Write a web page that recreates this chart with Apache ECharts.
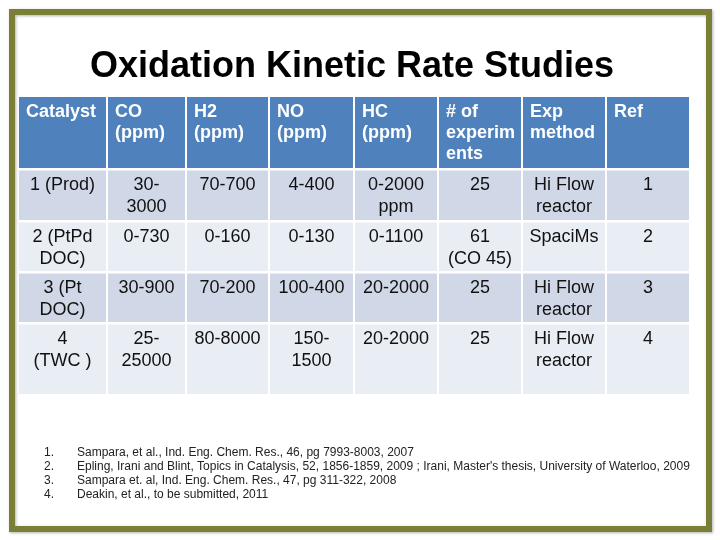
<!DOCTYPE html>
<html>
<head>
<meta charset="utf-8">
<script src="https://cdn.jsdelivr.net/npm/echarts@6/dist/echarts.min.js"></script>
<style>
  html, body { margin: 0; padding: 0; background: #fff; }
  #chart { width: 720px; height: 540px; }
</style>
</head>
<body>
<div id="chart"></div>
<script>
// table content
const headers = ['Catalyst', 'CO\n(ppm)', 'H2\n(ppm)', 'NO\n(ppm)', 'HC\n(ppm)', '# of\nexperim\nents', 'Exp\nmethod', 'Ref']
const catalysts = ['1 (Prod)', '2 (PtPd\nDOC)', '3 (Pt\nDOC)', '4\n(TWC )']
const coRange = ['30-\n3000', '0-730', '30-900', '25-\n25000']
const h2Range = ['70-700', '0-160', '70-200', '80-8000']
const noRange = ['4-400', '0-130', '100-400', '150-\n1500']
const hcRange = ['0-2000\nppm', '0-1100', '20-2000', '20-2000']
const experiments = ['25', '61\n(CO 45)', '25', '25']
const methods = ['Hi Flow\nreactor', 'SpaciMs', 'Hi Flow\nreactor', 'Hi Flow\nreactor']
const refs = ['1', '2', '3', '4']
const references = [
  'Sampara, et al., Ind. Eng. Chem. Res., 46, pg 7993-8003, 2007',
  "Epling, Irani and Blint, Topics in Catalysis, 52, 1856-1859, 2009 ; Irani, Master's thesis, University of Waterloo, 2009",
  'Sampara et. al, Ind. Eng. Chem. Res., 47, pg 311-322, 2008',
  'Deakin, et al., to be submitted, 2011'
]

// layout: column / row boundaries in axis units (px offsets inside the grid)
const colEdges = [0, 88, 167, 250, 335, 419, 503, 587, 670]
const rowEdges = [0, 73.5, 125.5, 176.5, 227.5, 299.5]

const FONT = '"Liberation Sans", Arial, sans-serif'
const columnsData = [catalysts, coRange, h2Range, noRange, hcRange, experiments, methods, refs]

const cells = []
headers.forEach((h, c) => cells.push({ value: [c, 0], text: h }))
catalysts.forEach((_, r) => {
  columnsData.forEach((col, c) => cells.push({ value: [c, r + 1], text: col[r] }))
})

const renderCell = (params, api) => {
  const c = api.value(0)
  const r = api.value(1)
  const p0 = api.coord([colEdges[c], rowEdges[r]])
  const p1 = api.coord([colEdges[c + 1], rowEdges[r + 1]])
  const x = p0[0] + (c > 0 ? 1 : 0)
  const w = p1[0] - p0[0] - (c > 0 ? 1 : 0) - (c < 7 ? 1 : 0)
  const y = p0[1]
  const h = p1[1] - p0[1] - 2.5
  const isHeader = r === 0
  const fill = isHeader ? '#4f81bd' : (r % 2 === 1 ? '#d0d8e8' : '#e9edf4')
  const text = cells[params.dataIndex].text
  return {
    type: 'group',
    children: [
      { type: 'rect', shape: { x, y, width: w, height: h }, style: { fill } },
      {
        type: 'text',
        x: isHeader ? x + 7 : x + w / 2,
        y: y + (isHeader ? 5 : 3),
        style: {
          text,
          fill: isHeader ? '#fff' : '#111',
          font: (isHeader ? 'bold ' : '') + '18px ' + FONT,
          lineHeight: isHeader ? 21 : 22.5,
          align: isHeader ? 'left' : 'center',
          verticalAlign: 'top'
        }
      }
    ]
  }
}

const chart = echarts.init(document.getElementById('chart'))

const refGraphics = []
references.forEach((ref, i) => {
  refGraphics.push({
    type: 'text', left: 44, top: 447 + i * 14,
    style: { text: (i + 1) + '.', font: '12px ' + FONT, fill: '#222' }
  })
  refGraphics.push({
    type: 'text', left: 77, top: 447 + i * 14,
    style: { text: ref, font: '12px ' + FONT, fill: '#222' }
  })
})

chart.setOption({
  animation: false,
  grid: { left: 19, right: 31, top: 97, bottom: 540 - 97 - 299.5 },
  xAxis: { type: 'value', min: 0, max: 670, show: false },
  yAxis: { type: 'value', min: 0, max: 299.5, inverse: true, show: false },
  graphic: [
    {
      type: 'rect', shape: { x: 12, y: 12, width: 697, height: 517 },
      style: { fill: 'none', stroke: '#7a7e36', lineWidth: 6, shadowBlur: 3, shadowColor: 'rgba(0,0,0,0.3)', shadowOffsetX: 1, shadowOffsetY: 1 }
    },
    {
      type: 'text', x: 352, y: 49,
      style: { text: 'Oxidation Kinetic Rate Studies', font: 'bold 36px ' + FONT, fill: '#000', align: 'center' }
    },
    ...refGraphics
  ],
  series: [
    {
      type: 'custom',
      renderItem: renderCell,
      data: cells,
      silent: true
    }
  ]
})
</script>
</body>
</html>
